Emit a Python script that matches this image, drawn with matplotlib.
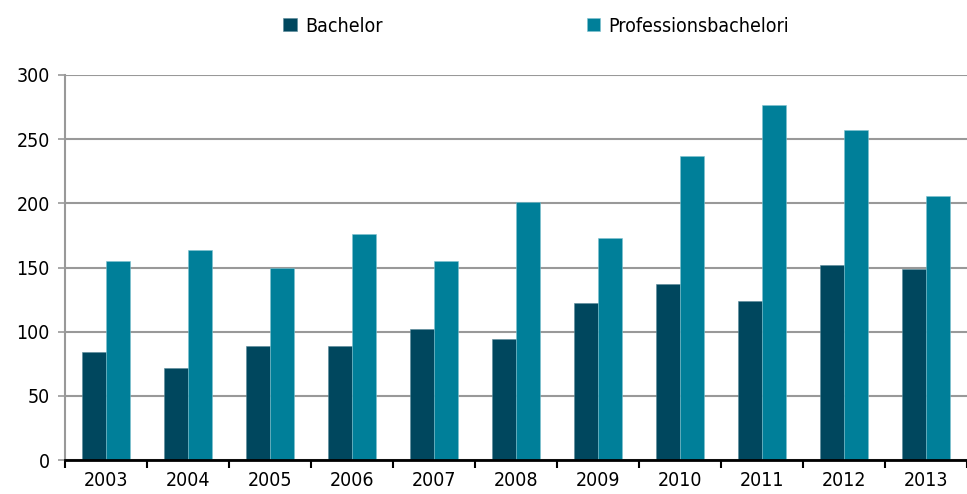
import numpy as np
import matplotlib.pyplot as plt

years = ["2003", "2004", "2005", "2006", "2007", "2008", "2009", "2010", "2011", "2012", "2013"]
bachelor = [84, 72, 89, 89, 102, 94, 122, 137, 124, 152, 149]
prof_bachelor = [155, 164, 150, 176, 155, 201, 173, 237, 277, 257, 206]
labels = ["Bachelor", "Professionsbachelori"]

plt.rcParams['font.family'] = ['DejaVu Sans']
plt.rcParams['font.stretch'] = 'condensed'

c_dark = "#00475e"
c_teal = "#007f99"

fig = plt.figure(figsize=(9.67, 4.94), dpi=100)
ax = fig.add_axes([65/967, 34/494, 1 - 65/967, (460-75)/494])

x = np.arange(len(years))
w = 0.29
ax.bar(x - w/2, bachelor, w, color=c_dark, edgecolor="#5a8a99", linewidth=0.4, label=labels[0], zorder=3)
ax.bar(x + w/2, prof_bachelor, w, color=c_teal, edgecolor="#7fc3d0", linewidth=0.4, label=labels[1], zorder=3)

ax.set_ylim(0, 300)
ax.set_xlim(-0.5, len(years) - 0.5)
ax.set_yticks(range(0, 301, 50))
ax.yaxis.grid(True, color="#999999", linewidth=1.5, zorder=0)
ax.set_axisbelow(True)

ax.set_xticks(x)
ax.set_xticklabels(years)
ax.set_xticks(np.arange(-0.5, len(years)), minor=True)
ax.tick_params(axis="x", which="major", length=0, labelsize=14, pad=8)
ax.tick_params(axis="x", which="minor", length=6, width=1.5, color="black", direction="out")
ax.tick_params(axis="y", length=5, width=1.2, color="#999999", labelsize=14, pad=6)

for s in ["top", "right"]:
    ax.spines[s].set_visible(False)
ax.spines["left"].set_color("#999999")
ax.spines["left"].set_linewidth(1.5)
ax.spines["bottom"].set_color("black")
ax.spines["bottom"].set_linewidth(2)
ax.spines["bottom"].set_zorder(4)

fig.legend(loc="center", bbox_to_anchor=(536/967, 1 - 26/494), ncol=2, frameon=False,
           fontsize=14, handlelength=0.7, handleheight=0.7, handletextpad=0.4,
           columnspacing=10.5)

fig.savefig("out.png", dpi=100)
